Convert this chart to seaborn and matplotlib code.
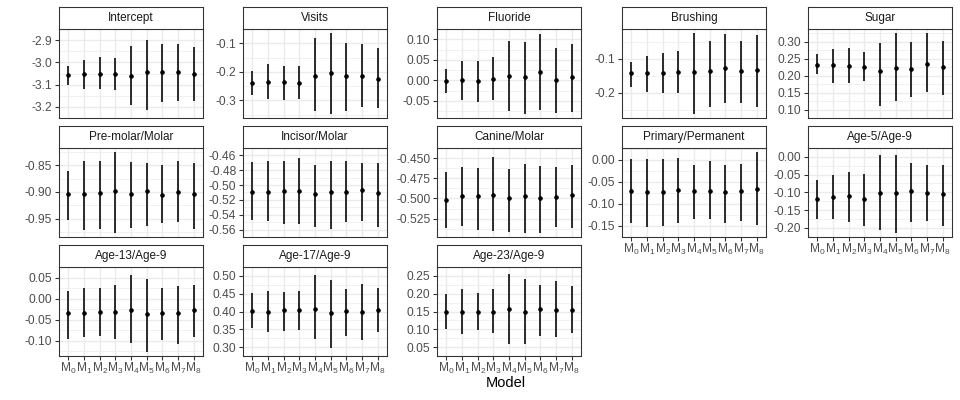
import numpy as np
import pandas as pd
import matplotlib
matplotlib.use("Agg")
import matplotlib.pyplot as plt
import seaborn as sns

models = ["M0", "M1", "M2", "M3", "M4", "M5", "M6", "M7", "M8"]
model_labels = [r"$\mathregular{M_%d}$" % i for i in range(9)]

terms = ["Intercept", "Visits", "Fluoride", "Brushing", "Sugar",
         "Pre-molar/Molar", "Incisor/Molar", "Canine/Molar", "Primary/Permanent", "Age-5/Age-9",
         "Age-13/Age-9", "Age-17/Age-9", "Age-23/Age-9"]

# point estimates, lower and upper interval ends, one row per term
est = [
    [-3.055, -3.052, -3.050, -3.050, -3.059, -3.044, -3.044, -3.042, -3.052],
    [-0.241, -0.235, -0.235, -0.239, -0.214, -0.206, -0.214, -0.216, -0.225],
    [-0.002, 0.001, -0.001, 0.003, 0.011, 0.009, 0.020, 0.001, 0.007],
    [-0.143, -0.141, -0.142, -0.139, -0.138, -0.136, -0.127, -0.136, -0.133],
    [0.231, 0.231, 0.229, 0.227, 0.213, 0.223, 0.219, 0.234, 0.226],
    [-0.904, -0.903, -0.901, -0.898, -0.903, -0.899, -0.905, -0.900, -0.904],
    [-0.509, -0.509, -0.508, -0.508, -0.512, -0.510, -0.510, -0.507, -0.511],
    [-0.502, -0.497, -0.497, -0.496, -0.499, -0.497, -0.499, -0.498, -0.496],
    [-0.070, -0.074, -0.074, -0.068, -0.070, -0.070, -0.074, -0.070, -0.066],
    [-0.118, -0.113, -0.110, -0.120, -0.102, -0.103, -0.095, -0.103, -0.106],
    [-0.035, -0.035, -0.032, -0.031, -0.027, -0.036, -0.034, -0.034, -0.028],
    [0.402, 0.400, 0.403, 0.403, 0.408, 0.395, 0.401, 0.400, 0.404],
    [0.150, 0.149, 0.150, 0.148, 0.157, 0.148, 0.156, 0.155, 0.153],
]
lower = [
    [-3.102, -3.120, -3.118, -3.123, -3.193, -3.213, -3.179, -3.174, -3.175],
    [-0.283, -0.294, -0.300, -0.295, -0.339, -0.348, -0.338, -0.325, -0.327],
    [-0.031, -0.048, -0.054, -0.049, -0.074, -0.082, -0.072, -0.080, -0.078],
    [-0.182, -0.197, -0.201, -0.200, -0.262, -0.241, -0.230, -0.230, -0.243],
    [0.204, 0.177, 0.177, 0.185, 0.109, 0.126, 0.136, 0.151, 0.144],
    [-0.953, -0.972, -0.969, -0.977, -0.967, -0.964, -0.959, -0.956, -0.969],
    [-0.547, -0.549, -0.553, -0.552, -0.557, -0.559, -0.550, -0.548, -0.557],
    [-0.536, -0.534, -0.539, -0.540, -0.541, -0.543, -0.543, -0.535, -0.537],
    [-0.144, -0.152, -0.149, -0.144, -0.135, -0.135, -0.144, -0.139, -0.147],
    [-0.176, -0.176, -0.183, -0.194, -0.205, -0.215, -0.184, -0.181, -0.195],
    [-0.096, -0.091, -0.089, -0.095, -0.105, -0.127, -0.098, -0.108, -0.090],
    [0.353, 0.342, 0.344, 0.347, 0.322, 0.298, 0.331, 0.321, 0.342],
    [0.100, 0.086, 0.097, 0.090, 0.060, 0.059, 0.082, 0.079, 0.090],
]
upper = [
    [-3.016, -2.990, -2.974, -2.980, -2.928, -2.898, -2.918, -2.919, -2.932],
    [-0.196, -0.174, -0.178, -0.178, -0.082, -0.064, -0.099, -0.102, -0.115],
    [0.027, 0.048, 0.046, 0.056, 0.095, 0.094, 0.113, 0.078, 0.088],
    [-0.110, -0.092, -0.084, -0.077, -0.025, -0.049, -0.029, -0.049, -0.031],
    [0.263, 0.279, 0.281, 0.271, 0.296, 0.327, 0.300, 0.327, 0.301],
    [-0.860, -0.841, -0.841, -0.825, -0.844, -0.846, -0.849, -0.842, -0.845],
    [-0.469, -0.467, -0.467, -0.463, -0.473, -0.467, -0.467, -0.470, -0.470],
    [-0.467, -0.461, -0.462, -0.449, -0.464, -0.457, -0.460, -0.461, -0.458],
    [0.001, 0.001, 0.001, 0.004, -0.011, -0.003, -0.011, -0.009, 0.018],
    [-0.064, -0.050, -0.042, -0.049, 0.006, 0.006, -0.016, -0.023, -0.022],
    [0.019, 0.024, 0.026, 0.032, 0.057, 0.047, 0.026, 0.029, 0.032],
    [0.453, 0.457, 0.454, 0.457, 0.503, 0.488, 0.464, 0.478, 0.467],
    [0.200, 0.214, 0.202, 0.212, 0.255, 0.240, 0.224, 0.236, 0.221],
]

y_ticks = [
    [-3.2, -3.1, -3.0, -2.9],
    [-0.3, -0.2, -0.1],
    [-0.05, 0.00, 0.05, 0.10],
    [-0.2, -0.1],
    [0.10, 0.15, 0.20, 0.25, 0.30],
    [-0.95, -0.90, -0.85],
    [-0.56, -0.54, -0.52, -0.50, -0.48, -0.46],
    [-0.525, -0.500, -0.475, -0.450],
    [-0.15, -0.10, -0.05, 0.00],
    [-0.20, -0.15, -0.10, -0.05, 0.00],
    [-0.10, -0.05, 0.00, 0.05],
    [0.30, 0.35, 0.40, 0.45, 0.50],
    [0.05, 0.10, 0.15, 0.20, 0.25],
]
y_decimals = [1, 1, 2, 1, 2, 2, 2, 3, 2, 2, 2, 2, 2]

rows = []
for t, term in enumerate(terms):
    for m, model in enumerate(models):
        rows.append({"term": term, "model": model, "pos": m,
                     "est": est[t][m], "lo": lower[t][m], "hi": upper[t][m]})
df = pd.DataFrame(rows)

sns.set_theme(style="white")
plt.rcParams["font.family"] = ["Liberation Sans", "DejaVu Sans"]
plt.rcParams["mathtext.fontset"] = "custom"
plt.rcParams["mathtext.rm"] = "Liberation Sans"
plt.rcParams["axes.unicode_minus"] = False

W, H = 960, 400
fig = plt.figure(figsize=(W / 96, H / 96), dpi=96)

col_left = [59, 243, 437, 622, 808]
panel_w = 144
row_top = [7, 126, 245]
strip_h = 22
panel_h = 89
border = "#333333"

for i, term in enumerate(terms):
    r, c = divmod(i, 5)
    x0 = col_left[c]
    top = row_top[r] + strip_h
    ax = fig.add_axes([x0 / W, 1 - (top + panel_h) / H, panel_w / W, panel_h / H])
    sax = fig.add_axes([x0 / W, 1 - top / H, panel_w / W, strip_h / H])

    sub = df[df["term"] == term]
    ax.vlines(sub["pos"], sub["lo"], sub["hi"], color="black", linewidth=1.2, zorder=3)
    sns.scatterplot(data=sub, x="pos", y="est", ax=ax, color="black", s=8,
                    edgecolor="black", linewidth=0.5, zorder=4, legend=False)

    lo_all, hi_all = sub["lo"].min(), sub["hi"].max()
    pad = (hi_all - lo_all) * 0.05
    ax.set_ylim(lo_all - pad, hi_all + pad)
    ax.set_xlim(-0.6, 8.6)

    ticks = y_ticks[i]
    step = ticks[1] - ticks[0]
    ax.set_yticks(ticks)
    ax.set_yticklabels([f"{v:.{y_decimals[i]}f}" for v in ticks])
    minors = [ticks[0] - step / 2] + [v + step / 2 for v in ticks]
    ax.set_yticks(minors, minor=True)
    ax.set_xticks(range(len(models)))
    show_x = (r == 2) or (r == 1 and c >= 3)
    if show_x:
        ax.set_xticklabels(model_labels)
    else:
        ax.set_xticklabels([])

    ax.grid(True, which="major", color="#EBEBEB", linewidth=1.0, zorder=0)
    ax.grid(True, which="minor", axis="y", color="#EBEBEB", linewidth=0.5, zorder=0)
    ax.set_axisbelow(True)
    ax.tick_params(axis="y", which="major", left=True, length=3, width=0.8,
                   color=border, labelsize=9, labelcolor="#4D4D4D", pad=2)
    ax.tick_params(axis="y", which="minor", left=False)
    ax.tick_params(axis="x", which="major", bottom=show_x, length=3, width=0.8,
                   color=border, labelsize=9, labelcolor="#4D4D4D", pad=1)
    ax.set_xlabel("")
    ax.set_ylabel("")
    for sp in ax.spines.values():
        sp.set_color(border)
        sp.set_linewidth(0.8)

    sax.set_facecolor("white")
    sax.set_xticks([])
    sax.set_yticks([])
    for sp in sax.spines.values():
        sp.set_color(border)
        sp.set_linewidth(0.8)
    sax.text(0.5, 0.5, term, ha="center", va="center", fontsize=8.8,
             color="#1A1A1A", transform=sax.transAxes)

fig.text((col_left[0] + col_left[-1] + panel_w) / 2 / W, 1 - 383 / H, "Model",
         ha="center", va="center", fontsize=11, color="black")

fig.savefig("out.png", dpi=96)
